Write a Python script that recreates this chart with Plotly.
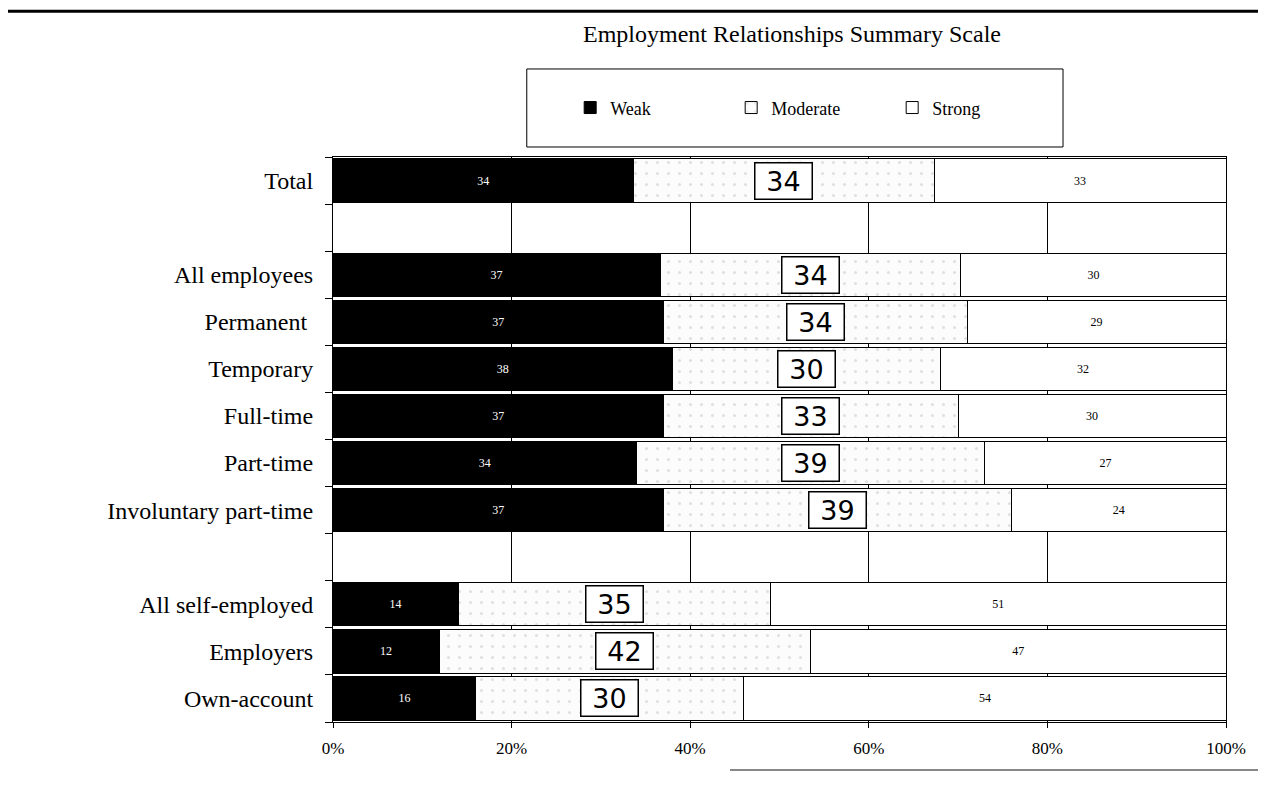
import plotly.graph_objects as go

rows = ["Total", " ", "All employees", "Permanent ", "Temporary", "Full-time",
        "Part-time", "Involuntary part-time", "  ", "All self-employed",
        "Employers", "Own-account"]
cats = ["Total", "All employees", "Permanent ", "Temporary", "Full-time",
        "Part-time", "Involuntary part-time", "All self-employed",
        "Employers", "Own-account"]
weak = [34, 37, 37, 38, 37, 34, 37, 14, 12, 16]
moderate = [34, 34, 34, 30, 33, 39, 39, 35, 42, 30]
strong = [33, 30, 29, 32, 30, 27, 24, 51, 47, 54]
xticks = [0, 20, 40, 60, 80, 100]
xtick_labels = ["0%", "20%", "40%", "60%", "80%", "100%"]

SERIF = "Liberation Serif"
fig = go.Figure()
fig.add_trace(go.Bar(
    y=cats, x=weak, name="Weak", orientation="h",
    marker=dict(color="black", line=dict(color="black", width=1)),
    text=[str(v) for v in weak], textposition="inside", insidetextanchor="middle",
    textfont=dict(color="white", size=12, family=SERIF), hoverinfo="x+y"))
fig.add_trace(go.Bar(
    y=cats, x=moderate, name="Moderate", orientation="h",
    marker=dict(color="#fcfcfc", line=dict(color="black", width=1),
                pattern=dict(shape=".", fgcolor="#c4c4c4", bgcolor="#fcfcfc",
                             size=11, solidity=0.06)),
    hoverinfo="x+y"))
fig.add_trace(go.Bar(
    y=cats, x=strong, name="Strong", orientation="h",
    marker=dict(color="white", line=dict(color="black", width=1)),
    text=[str(v) for v in strong], textposition="inside", insidetextanchor="middle",
    textfont=dict(color="black", size=12, family=SERIF), hoverinfo="x+y"))

# boxed moderate labels placed at the centre of each moderate segment
annotations = []
for c, w, m, s in zip(cats, weak, moderate, strong):
    tot = w + m + s
    xc = (w + m / 2) / tot * 100
    annotations.append(dict(
        x=xc, y=c, xref="x", yref="y", text=str(m), showarrow=False,
        font=dict(size=27, family="DejaVu Sans", color="black"),
        width=52, height=31,
        bordercolor="black", borderwidth=1.5, borderpad=2, bgcolor="white"))

annotations.append(dict(
    x=0.514, y=1.218, xref="paper", yref="paper", xanchor="center", yanchor="middle",
    text="Employment Relationships Summary Scale", showarrow=False,
    font=dict(size=24, family=SERIF, color="black")))

fig.update_layout(
    width=1258, height=779,
    margin=dict(l=325, r=40, t=149, b=65),
    paper_bgcolor="white", plot_bgcolor="white",
    barmode="stack", barnorm="percent", bargap=0.08,
    font=dict(family=SERIF, color="black"),
    showlegend=True,
    legend=dict(orientation="h", x=0.2656, y=1.087, xanchor="left", yanchor="middle",
                entrywidth=116, font=dict(size=18, family=SERIF),
                bgcolor="rgba(0,0,0,0)", borderwidth=0, traceorder="normal"),
    annotations=annotations,
    shapes=[
        dict(type="rect", xref="paper", yref="paper", x0=0.217, x1=0.8175,
             y0=1.0177, y1=1.1558, line=dict(color="black", width=1)),
        dict(type="line", xref="paper", yref="paper", x0=-0.373, x1=1.045,
             y0=1.258, y1=1.258, line=dict(color="black", width=3)),
        dict(type="line", xref="paper", yref="paper", x0=0.4446, x1=1.045,
             y0=-0.085, y1=-0.085, line=dict(color="#888888", width=2)),
    ],
    xaxis=dict(range=[0, 100], tickvals=xticks, ticktext=xtick_labels,
               showgrid=True, gridcolor="black", gridwidth=1,
               showline=True, linecolor="black", linewidth=1, mirror=True,
               ticks="outside", ticklen=5, tickcolor="black", ticklabelstandoff=6,
               tickfont=dict(size=17, family=SERIF), zeroline=False),
    yaxis=dict(categoryorder="array", categoryarray=rows, autorange="reversed",
               tickvals=rows, showline=True, linecolor="black", linewidth=1, mirror=True,
               ticks="outside", ticklen=7, tickcolor="black", tickson="boundaries",
               ticklabelstandoff=14,
               tickfont=dict(size=24, family=SERIF), showgrid=False),
)
fig.write_html("out.html")
